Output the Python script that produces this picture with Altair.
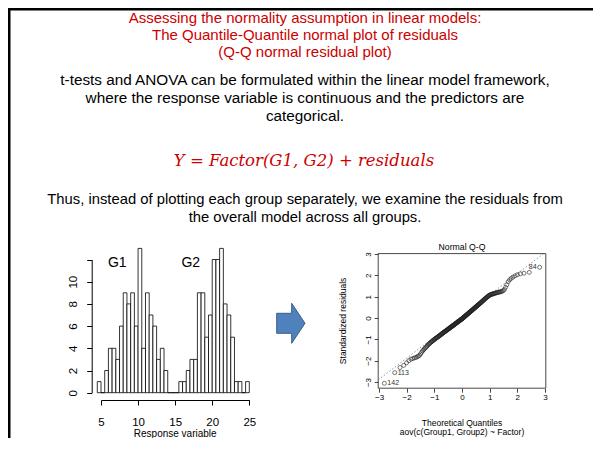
import altair as alt
import pandas as pd
from statistics import NormalDist

W, H = 585, 430
M = 8  # page margin: reference pixel -> chart pixel


def X(v):
    return v - M


def Y(v):
    return v - M


FONT = "Liberation Sans"
RED = "#CC0000"

# ---------------- data ----------------
title_lines = [
    "Assessing the normality assumption in linear models:",
    "The Quantile-Quantile normal plot of residuals",
    "(Q-Q normal residual plot)",
]
body_lines = [
    "t-tests and ANOVA can be formulated within the linear model framework,",
    "where the response variable is continuous and the predictors are",
    "categorical.",
]
formula_text = "Y = Factor(G1, G2) + residuals"
body2_lines = [
    "Thus, instead of plotting each group separately, we examine the residuals from",
    "the overall model across all groups.",
]

hist_bin_start = [4.5 + 0.5 * i for i in range(41)]
g1_counts = [1, 0, 2, 4, 4, 3, 6, 9, 8, 9, 6, 13, 4, 9, 7, 6, 3, 4, 2]
gap_counts = [0, 0, 0]
g2_counts = [1, 1, 2, 3, 3, 9, 9, 5, 7, 12, 12, 13, 8, 7, 5, 1, 1, 0, 1]
hist_x_ticks = [5, 10, 15, 20, 25]
hist_y_ticks = [0, 2, 4, 6, 8, 10, 12]
group_labels = ["G1", "G2"]
group_label_x = [7.2, 17.1]
group_label_y = [11.7, 11.7]

std_resid = [
    -3.06, -2.56, -2.32, -2.22, -2.10, -2.00, -1.93, -1.90, -1.87, -1.85,
    -1.82, -1.78, -1.75, -1.68, -1.60, -1.54, -1.49, -1.44, -1.40, -1.36,
    -1.32, -1.28, -1.24, -1.21, -1.18, -1.15, -1.12, -1.10, -1.08, -1.06,
    -1.03, -1.01, -0.99, -0.97, -0.95, -0.93, -0.92, -0.90, -0.88, -0.86,
    -0.85, -0.83, -0.81, -0.80, -0.78, -0.76, -0.74, -0.73, -0.71, -0.70,
    -0.68, -0.67, -0.65, -0.64, -0.62, -0.61, -0.59, -0.58, -0.57, -0.55,
    -0.54, -0.53, -0.51, -0.50, -0.49, -0.47, -0.46, -0.45, -0.43, -0.42,
    -0.41, -0.39, -0.38, -0.37, -0.36, -0.34, -0.33, -0.32, -0.30, -0.29,
    -0.28, -0.27, -0.25, -0.24, -0.23, -0.22, -0.20, -0.19, -0.18, -0.17,
    -0.15, -0.14, -0.13, -0.12, -0.11, -0.09, -0.08, -0.07, -0.06, -0.05,
    -0.03, -0.02, 0.00, 0.01, 0.02, 0.04, 0.05, 0.07, 0.08, 0.09,
    0.11, 0.12, 0.14, 0.15, 0.16, 0.18, 0.19, 0.21, 0.22, 0.24,
    0.25, 0.27, 0.28, 0.30, 0.31, 0.32, 0.34, 0.35, 0.37, 0.38,
    0.40, 0.41, 0.43, 0.44, 0.46, 0.48, 0.49, 0.51, 0.52, 0.54,
    0.56, 0.57, 0.59, 0.60, 0.62, 0.64, 0.65, 0.67, 0.69, 0.71,
    0.72, 0.74, 0.76, 0.78, 0.80, 0.82, 0.84, 0.86, 0.88, 0.90,
    0.92, 0.94, 0.96, 0.98, 1.00, 1.02, 1.04, 1.06, 1.08, 1.09,
    1.10, 1.11, 1.12, 1.13, 1.14, 1.15, 1.16, 1.17, 1.18, 1.19,
    1.20, 1.21, 1.22, 1.23, 1.24, 1.26, 1.29, 1.34, 1.44, 1.56,
    1.70, 1.79, 1.86, 1.92, 1.98, 2.03, 2.07, 2.10, 2.14, 2.38,
]
qq_ticks = [-3, -2, -1, 0, 1, 2, 3]
outlier_ids = ["142", "113", "84"]
outlier_rank = [0, 1, 199]
qq_line_x = [-3.03, 2.93]
qq_line_y = [-2.90, 3.00]
qq_box = {"x0": [-3.03], "x1": [3.03], "y0": [-3.29], "y1": [3.02]}


# ---------------- helpers ----------------
def text_at(s, x, y, size, color="black", font=FONT, style=None, angle=None, align="center"):
    kw = dict(fontSize=size, font=font, color=color, align=align, baseline="middle")
    if style:
        kw["fontStyle"] = style
    if angle is not None:
        kw["angle"] = angle
    return alt.Chart(pd.DataFrame({"t": [s]})).mark_text(**kw).encode(
        text="t:N", x=alt.value(x), y=alt.value(y)
    )


one = pd.DataFrame({"a": [0]})

# ---------------- histogram ----------------
counts = g1_counts + gap_counts + g2_counts
hist_df = pd.DataFrame({
    "start": hist_bin_start,
    "stop": [s + 0.5 for s in hist_bin_start],
    "count": counts,
})
hx = alt.Scale(domain=[5, 25], range=[X(101), X(249.3)], nice=False, zero=False)
hy = alt.Scale(domain=[0, 12], range=[Y(392.7), Y(259.5)], nice=False, zero=False)
HX_AXIS_Y = Y(400)      # pixel row of the histogram x axis
HY_AXIS_X = X(91.7)     # pixel column of the histogram y axis

axis_common = dict(grid=False, title=None, labelFont=FONT, labelColor="black",
                   domain=True, domainColor="black", domainWidth=1,
                   tickColor="black", tickWidth=1,
                   labelFlush=False, labelOverlap=False)

hist_bars = alt.Chart(hist_df).mark_rect(fill="white", stroke="black", strokeWidth=0.8).encode(
    x=alt.X("start:Q", scale=hx, axis=alt.Axis(
        orient="bottom", values=hist_x_ticks, offset=HX_AXIS_Y - H, tickSize=5,
        labelPadding=11, labelFontSize=11.5, **axis_common)),
    x2="stop",
    y=alt.Y("count:Q", scale=hy, axis=alt.Axis(
        orient="left", values=hist_y_ticks, offset=-HY_AXIS_X, tickSize=5,
        labelAngle=270, labelAlign="center", labelBaseline="bottom", labelPadding=8,
        labelFontSize=11.5, labelExpr="datum.value > 10 ? '' : datum.label", **axis_common)),
    y2=alt.datum(0),
)
group_df = pd.DataFrame({"g": group_labels, "x": group_label_x, "y": group_label_y})
hist_groups = alt.Chart(group_df).mark_text(fontSize=14, font=FONT, color="black").encode(
    x=alt.X("x:Q", scale=hx, axis=None),
    y=alt.Y("y:Q", scale=hy, axis=None),
    text="g:N",
)

# ---------------- Q-Q plot ----------------
n = len(std_resid)
nd = NormalDist()
theo = [nd.inv_cdf((i + 0.5) / n) for i in range(n)]
qq_df = pd.DataFrame({"q": theo, "s": std_resid})
qx = alt.Scale(domain=[-3.03, 3.03], range=[X(378.2), X(545.8)], nice=False, zero=False)
qy = alt.Scale(domain=[-3.29, 3.02], range=[Y(388.2), Y(253.6)], nice=False, zero=False)
QX_AXIS_Y = Y(388.2)
QY_AXIS_X = X(378.2)

qq_axis = dict(grid=False, title=None, labelFont=FONT, labelColor="black",
               tickColor="#333333", tickWidth=0.9, domain=False, labelFlush=False,
               labelOverlap=False, labelFontSize=8, tickSize=4)

qq_points = alt.Chart(qq_df).mark_point(
    shape="circle", size=16, filled=False, stroke="#222222", strokeWidth=0.6, opacity=1
).encode(
    x=alt.X("q:Q", scale=qx, axis=alt.Axis(orient="bottom", values=qq_ticks,
                                           offset=QX_AXIS_Y - H, labelPadding=1, **qq_axis)),
    y=alt.Y("s:Q", scale=qy, axis=alt.Axis(orient="left", values=qq_ticks,
                                           offset=-QY_AXIS_X, labelAngle=270, labelAlign="center",
                                           labelBaseline="bottom", labelPadding=2, **qq_axis)),
)
qq_line = alt.Chart(pd.DataFrame({"q": qq_line_x, "s": qq_line_y})).mark_line(
    color="#777777", strokeWidth=0.8, strokeDash=[1.5, 2]
).encode(
    x=alt.X("q:Q", scale=qx, axis=None),
    y=alt.Y("s:Q", scale=qy, axis=None),
)
qq_frame = alt.Chart(pd.DataFrame(qq_box)).mark_rect(
    fill="white", fillOpacity=0, stroke="#333333", strokeWidth=0.9
).encode(
    x=alt.X("x0:Q", scale=qx, axis=None), x2="x1",
    y=alt.Y("y0:Q", scale=qy, axis=None), y2="y1",
)
lab_df = pd.DataFrame({
    "id": outlier_ids,
    "q": [theo[r] for r in outlier_rank],
    "s": [std_resid[r] for r in outlier_rank],
})
qq_lab_right = alt.Chart(lab_df.iloc[:2]).mark_text(
    fontSize=7, font=FONT, color="#333333", align="left", dx=3
).encode(x=alt.X("q:Q", scale=qx, axis=None), y=alt.Y("s:Q", scale=qy, axis=None), text="id:N")
qq_lab_left = alt.Chart(lab_df.iloc[2:]).mark_text(
    fontSize=7, font=FONT, color="#333333", align="right", dx=-3
).encode(x=alt.X("q:Q", scale=qx, axis=None), y=alt.Y("s:Q", scale=qy, axis=None), text="id:N")

layers = [hist_bars, hist_groups, qq_frame, qq_line, qq_points, qq_lab_right, qq_lab_left]

# slide border (top and left)
layers.append(alt.Chart(one).mark_rule(color="black", strokeWidth=3).encode(
    x=alt.value(0), x2=alt.value(W), y=alt.value(1)))
layers.append(alt.Chart(one).mark_rule(color="black", strokeWidth=3).encode(
    x=alt.value(1), y=alt.value(0), y2=alt.value(H)))

# slide texts
for s, yy in zip(title_lines, [18, 35, 52]):
    layers.append(text_at(s, X(305), Y(yy), 15, color=RED))
for s, yy in zip(body_lines, [80, 98, 116]):
    layers.append(text_at(s, X(305), Y(yy), 15.3))
layers.append(text_at(formula_text, X(304), Y(161), 16.5, color=RED, font="DejaVu Serif", style="italic"))
for s, yy in zip(body2_lines, [200, 218]):
    layers.append(text_at(s, X(305), Y(yy), 14.8))

# axis titles
layers.append(text_at("Response variable", X(175.2), Y(434.3), 10))
layers.append(text_at("Normal Q-Q", X(462), Y(247.3), 8.7))
layers.append(text_at("Theoretical Quantiles", X(462), Y(422.7), 8.5))
layers.append(text_at("aov(c(Group1, Group2) ~ Factor)", X(462), Y(432.3), 8.5))
layers.append(text_at("Standardized residuals", X(343.3), Y(320.9), 8.5, angle=270))

# ---------------- arrow ----------------
arrow_path = "M -0.715 -0.5 L 0.035 -0.5 L 0.035 -1 L 0.7 0 L 0.035 1 L 0.035 0.5 L -0.715 0.5 Z"
arrow = alt.Chart(one).mark_point(
    shape=arrow_path, size=1600, filled=True, fill="#4F81BD", stroke="#385D8A",
    strokeWidth=1, opacity=1
).encode(x=alt.value(X(291)), y=alt.value(Y(323.3)))
layers.append(arrow)

chart = alt.layer(*layers).resolve_scale(
    x="independent", y="independent"
).resolve_axis(
    x="independent", y="independent"
).properties(
    width=W, height=H, autosize="none", padding=0, background="white"
).configure_view(strokeWidth=0).configure(font=FONT)

chart.save("out.html", embed_options={"renderer": "svg", "actions": False})
